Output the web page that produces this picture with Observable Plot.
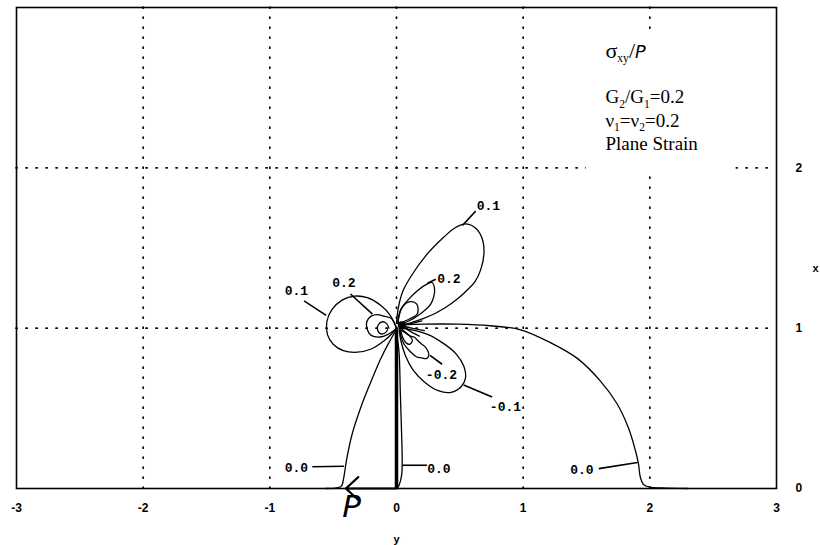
<!DOCTYPE html>
<html>
<head>
<meta charset="utf-8">
<script src="https://cdn.jsdelivr.net/npm/d3@7"></script>
<script src="https://cdn.jsdelivr.net/npm/@observablehq/plot@0.6"></script>
<style>
  body { margin: 0; background: #fff; }
</style>
</head>
<body>
<div id="chart"></div>
<script>
// Axes: y runs along the interface, x is depth.
const xTicks = [-3, -2, -1, 0, 1, 2, 3];
const yTicks = [0, 1, 2];
const xGrid = [-2, -1, 0, 1, 2];
const yGrid = [1, 2];

// Contour sigma_xy/P = 0.0
const zeroLeft = [[0.0,0.99],[-0.06,0.91],[-0.13,0.80],[-0.21,0.65],[-0.28,0.51],[-0.35,0.34],[-0.395,0.176],[-0.416,0.07],[-0.435,0.015],[-0.47,0.004],[-0.56,0.0]];
const zeroRight = [[0.03,1.02],[0.22,1.025],[0.48,1.025],[0.74,1.015],[0.98,0.99],[1.215,0.91],[1.43,0.81],[1.61,0.67],[1.74,0.53],[1.83,0.38],[1.885,0.24],[1.91,0.155],[1.925,0.07],[1.95,0.025],[2.0,0.008],[2.1,0.004],[2.3,0.0]];
const zeroSliver = [[0.0,0.97],[0.02,0.85],[0.03,0.6],[0.04,0.35],[0.045,0.17],[0.04,0.08],[0.02,0.02],[0.005,0.0]];

// Contour 0.1
const upper01 = [[0.0,1.03],[0.015,1.13],[0.05,1.23],[0.12,1.33],[0.24,1.46],[0.37,1.565],[0.46,1.625],[0.55,1.65],[0.63,1.62],[0.68,1.55],[0.69,1.46],[0.665,1.365],[0.62,1.29],[0.555,1.235],[0.47,1.175],[0.39,1.13],[0.30,1.09],[0.21,1.06],[0.10,1.03],[0.02,1.02]];
const left01 = [[0.0,1.0],[-0.05,1.08],[-0.12,1.14],[-0.23,1.19],[-0.33,1.20],[-0.43,1.175],[-0.51,1.115],[-0.55,1.04],[-0.545,0.96],[-0.50,0.90],[-0.42,0.86],[-0.31,0.85],[-0.20,0.87],[-0.10,0.92],[-0.03,0.97],[0.0,1.0]];

// Contour 0.2
const upper02 = [[0.01,1.03],[0.03,1.11],[0.085,1.17],[0.16,1.23],[0.24,1.275],[0.28,1.285],[0.30,1.25],[0.295,1.20],[0.27,1.15],[0.19,1.09],[0.085,1.04],[0.02,1.025]];
const left02 = [[0.0,1.0],[-0.04,1.06],[-0.10,1.075],[-0.15,1.085],[-0.20,1.075],[-0.235,1.04],[-0.23,0.99],[-0.20,0.955],[-0.13,0.945],[-0.07,0.96],[-0.02,0.985],[0.0,1.0]];

// Innermost positive contours near the tip
const upper03 = [[0.01,1.03],[0.045,1.13],[0.11,1.165],[0.16,1.15],[0.165,1.09],[0.11,1.06],[0.04,1.035]];
const left03 = [[-0.06,1.0],[-0.08,1.03],[-0.11,1.04],[-0.145,1.02],[-0.15,0.99],[-0.125,0.965],[-0.09,0.97],[-0.07,0.99]];

// Contours -0.1, -0.2 and the innermost negative one
const lower01 = [[0.02,1.0],[0.12,0.99],[0.25,0.96],[0.37,0.905],[0.47,0.84],[0.53,0.765],[0.545,0.69],[0.51,0.635],[0.43,0.60],[0.33,0.61],[0.22,0.665],[0.13,0.74],[0.07,0.83],[0.035,0.92],[0.02,1.0]];
const lower02 = [[0.03,0.99],[0.08,0.965],[0.11,0.95],[0.14,0.945],[0.165,0.925],[0.2,0.90],[0.23,0.88],[0.255,0.83],[0.235,0.81],[0.2,0.815],[0.16,0.82],[0.12,0.845],[0.09,0.87],[0.06,0.90],[0.035,0.95],[0.03,0.99]];
const lower03 = [[0.035,1.0],[0.07,0.975],[0.1,0.955],[0.125,0.925],[0.105,0.9],[0.08,0.905],[0.05,0.94],[0.035,0.98]];

// Short contour pieces crowding into the tip
const fanA = [[0.05,1.012],[0.12,1.0],[0.22,0.985]];
const fanB = [[0.05,1.008],[0.11,0.98],[0.18,0.95]];
const fanC = [[0.05,1.016],[0.12,1.03],[0.2,1.045]];

const contours = [
  ["zeroLeft", zeroLeft], ["zeroRight", zeroRight], ["zeroSliver", zeroSliver],
  ["upper01", upper01], ["left01", left01],
  ["upper02", upper02], ["left02", left02],
  ["upper03", upper03], ["left03", left03],
  ["lower01", lower01], ["lower02", lower02], ["lower03", lower03],
  ["fanA", fanA], ["fanB", fanB], ["fanC", fanC]
];
const linePoints = contours.flatMap(([id, pts]) => pts.map(([x, y]) => ({id, x, y})));

// Level labels and their leader lines
const levelLabels = [
  {text: "0.1", x: 0.726, y: 1.765},
  {text: "0.2", x: 0.414, y: 1.31},
  {text: "0.1", x: -0.79, y: 1.235},
  {text: "0.2", x: -0.415, y: 1.28},
  {text: "-0.2", x: 0.355, y: 0.71},
  {text: "-0.1", x: 0.86, y: 0.507},
  {text: "0.0", x: -0.79, y: 0.126},
  {text: "0.0", x: 0.335, y: 0.12},
  {text: "0.0", x: 1.464, y: 0.114}
];
const leaders = [
  {x1: 0.52, y1: 1.64, x2: 0.625, y2: 1.73},
  {x1: 0.245, y1: 1.28, x2: 0.31, y2: 1.305},
  {x1: -0.555, y1: 1.08, x2: -0.73, y2: 1.17},
  {x1: -0.19, y1: 1.088, x2: -0.363, y2: 1.213},
  {x1: 0.265, y1: 0.83, x2: 0.36, y2: 0.775},
  {x1: 0.53, y1: 0.645, x2: 0.755, y2: 0.57},
  {x1: -0.665, y1: 0.136, x2: -0.415, y2: 0.139},
  {x1: 0.045, y1: 0.145, x2: 0.24, y2: 0.145},
  {x1: 1.597, y1: 0.124, x2: 1.903, y2: 0.162}
];

// Loaded strip, tip and applied load P
const strip = [{x: 0, y1: 0, y2: 0.99}];
const tip = [{x: 0.04, y: 1.02}];
const load = [{x1: 0, y1: 0, x2: -0.40, y2: 0}];
const loadLabel = [{x: -0.355, y: 0, text: "P"}];

// Annotation block: _{..} marks a subscript, ~{..} a script letter
const noteBox = [{x1: 1.5, x2: 2.68, y1: 1.98, y2: 2.83}];
const titleNote = [{x: 1.65, y: 2.73, text: "σ_{xy}/~{P}"}];
const paramNotes = [
  {x: 1.65, y: 2.44, text: "G_{2}/G_{1}=0.2"},
  {x: 1.65, y: 2.295, text: "ν_{1}=ν_{2}=0.2"},
  {x: 1.65, y: 2.15, text: "Plane Strain"}
];
const xAxisName = [{x: 0, y: 0, text: "y"}];
const yAxisName = [{x: 3, y: 1.37, text: "x"}];

const dotted = {stroke: "black", strokeWidth: 1.7, strokeDasharray: "1.2,8.8", strokeLinecap: "round"};

const chart = Plot.plot({
  width: 820,
  height: 545,
  marginLeft: 16,
  marginRight: 44,
  marginTop: 7,
  marginBottom: 57,
  style: {background: "white", color: "black", fontFamily: "'Liberation Sans', Arial, sans-serif", fontSize: "12px", fontWeight: "bold", overflow: "visible"},
  x: {domain: [-3, 3], ticks: xTicks, tickSize: 0, tickPadding: 15, tickFormat: d => String(d), label: null},
  y: {domain: [0, 3], ticks: yTicks, axis: "right", tickSize: 0, tickPadding: 19, tickFormat: d => String(d), label: null},
  marks: [
    Plot.ruleX(xGrid, dotted),
    Plot.ruleY(yGrid, dotted),
    Plot.rect(noteBox, {x1: "x1", x2: "x2", y1: "y1", y2: "y2", fill: "white"}),
    Plot.line(linePoints, {x: "x", y: "y", z: "id", curve: "catmull-rom", stroke: "black", strokeWidth: 1.3}),
    Plot.link(leaders, {x1: "x1", y1: "y1", x2: "x2", y2: "y2", stroke: "black", strokeWidth: 1.6}),
    Plot.ruleX(strip, {x: "x", y1: "y1", y2: "y2", stroke: "black", strokeWidth: 3.5}),
    Plot.dot(tip, {x: "x", y: "y", r: 3.8, fill: "black"}),
    Plot.arrow(load, {x1: "x1", y1: "y1", x2: "x2", y2: "y2", stroke: "black", strokeWidth: 2.2, headLength: 12, headAngle: 85}),
    Plot.text(levelLabels, {x: "x", y: "y", text: "text", fontFamily: "'Liberation Mono', 'DejaVu Sans Mono', monospace", fontWeight: "bold", fontSize: 13}),
    Plot.text(loadLabel, {x: "x", y: "y", text: "text", dy: 19, fontFamily: "'DejaVu Sans', sans-serif", fontStyle: "italic", fontWeight: 200, fontSize: 31}),
    Plot.text(titleNote, {x: "x", y: "y", text: "text", textAnchor: "start", fontFamily: "'Liberation Serif', 'Times New Roman', serif", fontWeight: "normal", fontSize: 22}),
    Plot.text(paramNotes, {x: "x", y: "y", text: "text", textAnchor: "start", fontFamily: "'Liberation Serif', 'Times New Roman', serif", fontWeight: "normal", fontSize: 19}),
    Plot.text(xAxisName, {x: "x", y: "y", text: "text", dy: 51, fontSize: 11, fontWeight: "bold"}),
    Plot.text(yAxisName, {x: "x", y: "y", text: "text", dx: 36, textAnchor: "start", fontSize: 11, fontWeight: "bold"}),
    Plot.frame({stroke: "black", strokeWidth: 1.6})
  ]
});

// Turn _{..} and ~{..} markup into subscript / script tspans
function richText(root) {
  d3.select(root).selectAll("text").each(function () {
    const s = this.textContent;
    if (!/[_~]\{/.test(s)) return;
    const size = parseFloat(getComputedStyle(this).fontSize) || 16;
    const sel = d3.select(this).text(null);
    const parts = s.split(/([_~]\{[^}]*\})/).filter(Boolean);
    let shift = 0;
    for (const p of parts) {
      const m = p.match(/^([_~])\{([^}]*)\}$/);
      const t = sel.append("tspan");
      if (m && m[1] === "_") {
        const d = size * 0.26;
        t.text(m[2]).attr("font-size", size * 0.72).attr("dy", d - shift);
        shift = d;
      } else if (m && m[1] === "~") {
        t.text(m[2]).attr("font-family", "'DejaVu Sans', sans-serif").attr("font-style", "italic")
          .attr("font-weight", 200).attr("font-size", size * 1.1).attr("dy", -shift);
        shift = 0;
      } else {
        t.text(p).attr("dy", -shift);
        shift = 0;
      }
    }
  });
}
richText(chart);
document.getElementById("chart").appendChild(chart);
</script>
</body>
</html>
